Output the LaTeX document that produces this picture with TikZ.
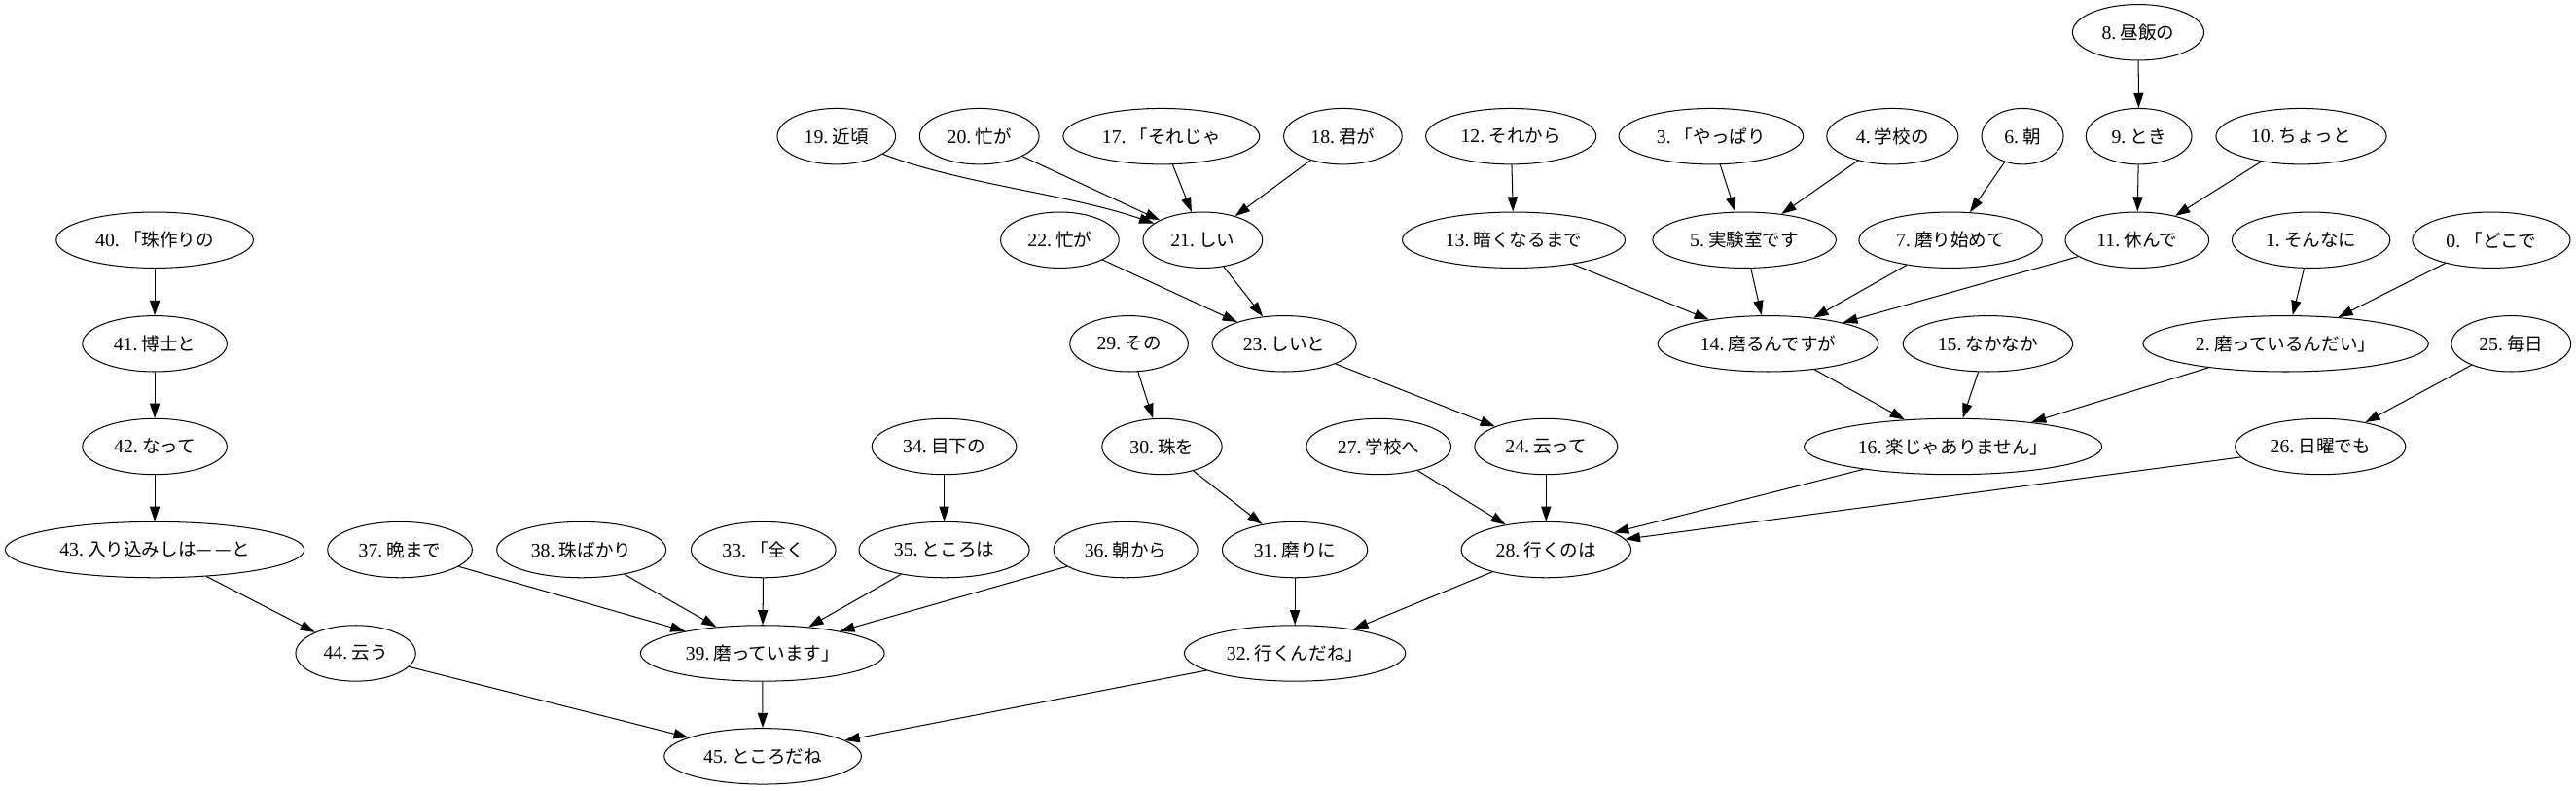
\documentclass[tikz,border=0pt]{standalone}
\usepackage{fontspec}
\setmainfont{Liberation Serif}
\newfontfamily\cjk{Noto Sans CJK JP}
\usetikzlibrary{shapes.geometric,arrows.meta}
\newcommand\lb[2]{{\fontsize{11.7}{13}\selectfont #1}\kern2.5pt{\fontsize{11}{13}\cjk #2}}
\begin{document}
\begin{tikzpicture}[x=1pt,y=-1pt,
  gnode/.style={ellipse, draw, line width=0.6pt, inner sep=0pt, minimum height=34pt},
  edge/.style={-{Triangle[length=9pt,width=6pt]}, line width=0.6pt}]
\useasboundingbox (0,0) rectangle (1568,481);
% row 0
\node[gnode, minimum width=80pt] (n8) at (1301.5,19.7) {\lb{8.}{昼飯の}};
% row 1
\node[gnode, minimum width=72pt] (n19) at (509.1,83) {\lb{19.}{近頃}};
\node[gnode, minimum width=72.7pt] (n20) at (596.1,83) {\lb{20.}{忙が}};
\node[gnode, minimum width=119.6pt] (n17) at (706.9,83) {\lb{17.}{「それじゃ}};
\node[gnode, minimum width=72pt] (n18) at (817.4,83) {\lb{18.}{君が}};
\node[gnode, minimum width=103.7pt] (n12) at (919.7,83) {\lb{12.}{それから}};
\node[gnode, minimum width=112.3pt] (n3) at (1041.5,83) {\lb{3.}{「やっぱり}};
\node[gnode, minimum width=80pt] (n4) at (1151.9,83) {\lb{4.}{学校の}};
\node[gnode, minimum width=49.7pt] (n6) at (1231.1,83) {\lb{6.}{朝}};
\node[gnode, minimum width=64.4pt] (n9) at (1301.9,83) {\lb{9.}{とき}};
\node[gnode, minimum width=103.7pt] (n10) at (1400.7,83) {\lb{10.}{ちょっと}};
% row 2
\node[gnode, minimum width=120pt] (n40) at (94.2,146.1) {\lb{40.}{「珠作りの}};
\node[gnode, minimum width=72pt] (n22) at (645.1,146.1) {\lb{22.}{忙が}};
\node[gnode, minimum width=72.7pt] (n21) at (732.1,146.1) {\lb{21.}{しい}};
\node[gnode, minimum width=135.6pt] (n13) at (921.4,146.1) {\lb{13.}{暗くなるまで}};
\node[gnode, minimum width=111.6pt] (n5) at (1061.8,146.1) {\lb{5.}{実験室です}};
\node[gnode, minimum width=111.6pt] (n7) at (1187.3,146.1) {\lb{7.}{磨り始めて}};
\node[gnode, minimum width=87.4pt] (n11) at (1300.8,146.1) {\lb{11.}{休んで}};
\node[gnode, minimum width=96.1pt] (n1) at (1406.7,146.1) {\lb{1.}{そんなに}};
\node[gnode, minimum width=96pt] (n0) at (1516.4,146.1) {\lb{0.}{「どこで}};
% row 3
\node[gnode, minimum width=88pt] (n41) at (94.2,209.2) {\lb{41.}{博士と}};
\node[gnode, minimum width=72pt] (n29) at (687.2,209.2) {\lb{29.}{その}};
\node[gnode, minimum width=87.7pt] (n23) at (781.7,209.2) {\lb{23.}{しいと}};
\node[gnode, minimum width=134.2pt] (n14) at (1076.2,209.2) {\lb{14.}{磨るんですが}};
\node[gnode, minimum width=103.3pt] (n15) at (1210,209.2) {\lb{15.}{なかなか}};
\node[gnode, minimum width=173.7pt] (n2) at (1391.3,209.2) {\lb{2.}{磨っているんだい」}};
\node[gnode, minimum width=72.7pt] (n25) at (1528.5,209.2) {\lb{25.}{毎日}};
% row 4
\node[gnode, minimum width=88pt] (n42) at (94.2,271.8) {\lb{42.}{なって}};
\node[gnode, minimum width=88pt] (n34) at (574.7,271.8) {\lb{34.}{目下の}};
\node[gnode, minimum width=73pt] (n30) at (707.3,271.8) {\lb{30.}{珠を}};
\node[gnode, minimum width=88pt] (n27) at (839.2,271.8) {\lb{27.}{学校へ}};
\node[gnode, minimum width=87pt] (n24) at (941.1,271.8) {\lb{24.}{云って}};
\node[gnode, minimum width=181.3pt] (n16) at (1188.8,271.8) {\lb{16.}{楽じゃありません」}};
\node[gnode, minimum width=103.7pt] (n26) at (1412.4,271.8) {\lb{26.}{日曜でも}};
% row 5
\node[gnode, minimum width=182pt] (n43) at (94.2,334.6) {\lb{43.}{入り込みしは—\kern2pt—と}};
\node[gnode, minimum width=88pt] (n37) at (243.4,334.6) {\lb{37.}{晩まで}};
\node[gnode, minimum width=103pt] (n38) at (353.9,334.6) {\lb{38.}{珠ばかり}};
\node[gnode, minimum width=88pt] (n33) at (464.7,334.6) {\lb{33.}{「全く}};
\node[gnode, minimum width=103.7pt] (n35) at (574.7,334.6) {\lb{35.}{ところは}};
\node[gnode, minimum width=87.7pt] (n36) at (685.2,334.6) {\lb{36.}{朝から}};
\node[gnode, minimum width=88.4pt] (n31) at (788.2,334.6) {\lb{31.}{磨りに}};
\node[gnode, minimum width=103.3pt] (n28) at (941.1,334.6) {\lb{28.}{行くのは}};
% row 6
\node[gnode, minimum width=73pt] (n44) at (216.5,397.6) {\lb{44.}{云う}};
\node[gnode, minimum width=148.5pt] (n39) at (464.1,397.6) {\lb{39.}{磨っています」}};
\node[gnode, minimum width=134.6pt] (n32) at (788.2,397.6) {\lb{32.}{行くんだね」}};
% row 7
\node[gnode, minimum width=120pt] (n45) at (464.3,460.3) {\lb{45.}{ところだね}};
% edges
\draw[edge] (n8) -- (n9);
\draw[edge] (n9) -- (n11);
\draw[edge] (n10) -- (n11);
\draw[edge] (n3) -- (n5);
\draw[edge] (n4) -- (n5);
\draw[edge] (n6) -- (n7);
\draw[edge] (n12) -- (n13);
\draw[edge] (n13) -- (n14);
\draw[edge] (n5) -- (n14);
\draw[edge] (n7) -- (n14);
\draw[edge] (n11) -- (n14);
\draw[edge] (n1) -- (n2);
\draw[edge] (n0) -- (n2);
\draw[edge] (n14) -- (n16);
\draw[edge] (n15) -- (n16);
\draw[edge] (n2) -- (n16);
\draw[edge] (n25) -- (n26);
\draw[edge] (n19) .. controls (585,112) and (650,118) .. (n21);
\draw[edge] (n20) -- (n21);
\draw[edge] (n17) -- (n21);
\draw[edge] (n18) -- (n21);
\draw[edge] (n22) -- (n23);
\draw[edge] (n21) -- (n23);
\draw[edge] (n23) -- (n24);
\draw[edge] (n29) -- (n30);
\draw[edge] (n30) -- (n31);
\draw[edge] (n27) -- (n28);
\draw[edge] (n24) -- (n28);
\draw[edge] (n16) -- (n28);
\draw[edge] (n26) -- (n28);
\draw[edge] (n40) -- (n41);
\draw[edge] (n41) -- (n42);
\draw[edge] (n42) -- (n43);
\draw[edge] (n43) -- (n44);
\draw[edge] (n34) -- (n35);
\draw[edge] (n37) -- (n39);
\draw[edge] (n38) -- (n39);
\draw[edge] (n33) -- (n39);
\draw[edge] (n35) -- (n39);
\draw[edge] (n36) -- (n39);
\draw[edge] (n31) -- (n32);
\draw[edge] (n28) -- (n32);
\draw[edge] (n44) -- (n45);
\draw[edge] (n39) -- (n45);
\draw[edge] (n32) -- (n45);
\end{tikzpicture}
\end{document}
